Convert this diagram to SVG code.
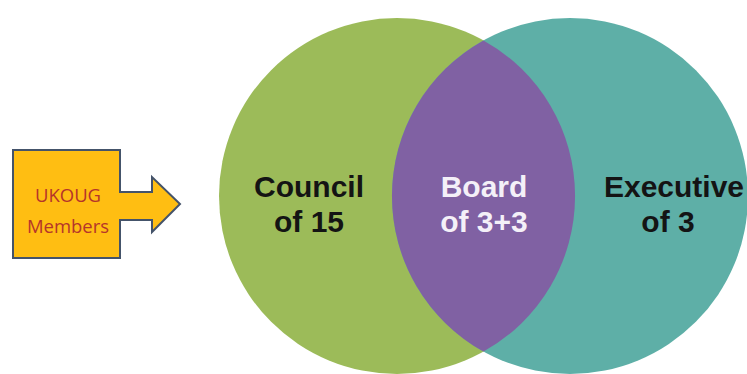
<svg xmlns="http://www.w3.org/2000/svg" width="747" height="374" viewBox="0 0 747 374">
  <style>
    .lbl { font-family: "Liberation Sans", Arial, sans-serif; font-weight: 700; font-size: 30px; text-anchor: middle; }
    .dark { fill: #141414; }
    .light { fill: #F4F0F8; }
    .small { font-family: "Open Sans", "Liberation Sans", sans-serif; font-size: 18.5px; fill: #B5352A; text-anchor: middle; }
  </style>
  <rect width="747" height="374" fill="#FFFFFF"/>

  <!-- UKOUG members: block arrow pointing into the council -->
  <g id="members">
    <polygon points="13,150 120,150 120,192 152,192 152,177 180,204 152,232 152,220 120,220 120,258 13,258" fill="#FFBE12" stroke="#44536A" stroke-width="2" stroke-linejoin="miter"/>
    <text class="small" x="68" y="202">UKOUG</text>
    <text class="small" x="68" y="233">Members</text>
  </g>

  <!-- Council set -->
  <g id="council">
    <circle cx="397" cy="196" r="178" fill="#9CBB59"/>
    <text class="lbl dark" x="309" y="197">Council</text>
    <text class="lbl dark" x="309" y="232">of 15</text>
  </g>

  <!-- Executive set -->
  <g id="executive">
    <circle cx="570" cy="196" r="178" fill="#5EAFA7"/>
    <text class="lbl dark" x="674" y="197">Executive</text>
    <text class="lbl dark" x="668" y="232">of 3</text>
  </g>

  <!-- Board: overlap of council and executive -->
  <g id="board">
    <path d="M483.5,40.4 A178,178 0 0 1 483.5,351.6 A178,178 0 0 1 483.5,40.4 Z" fill="#8061A3"/>
    <text class="lbl light" x="484" y="197">Board</text>
    <text class="lbl light" x="484" y="232">of 3+3</text>
  </g>

  <g id="connectors"/>
</svg>
